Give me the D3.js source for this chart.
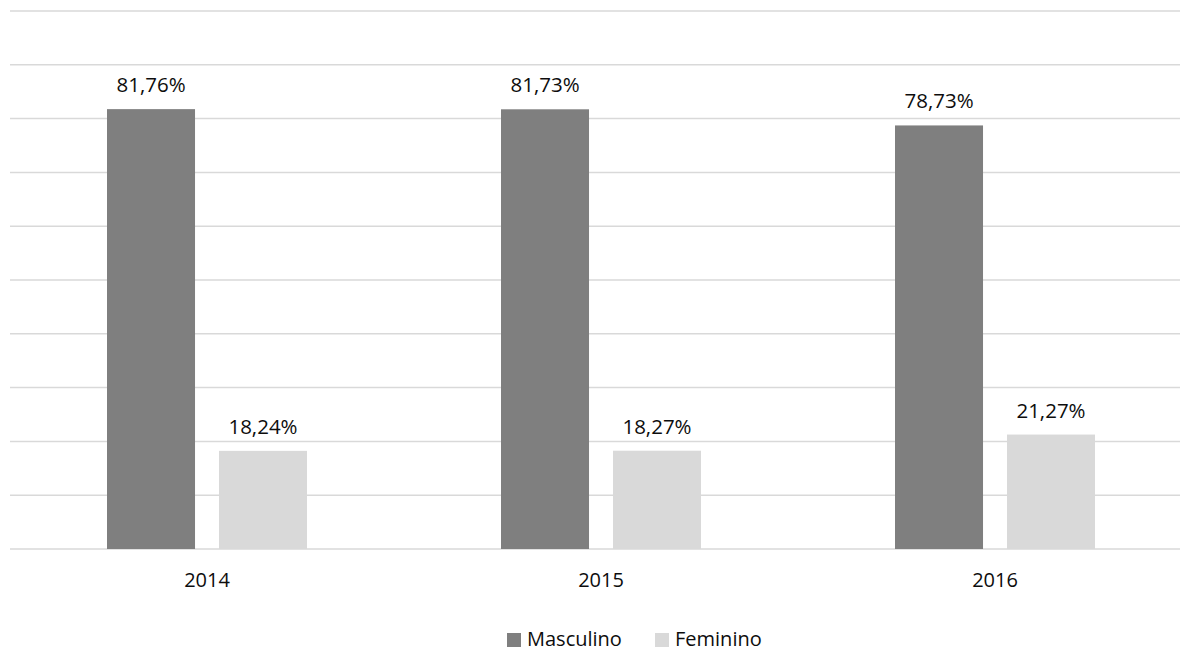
<!DOCTYPE html>
<html>
<head>
<meta charset="utf-8">
<script src="https://cdn.jsdelivr.net/npm/d3@7"></script>
<style>
  body { margin: 0; background: #fff; }
  svg { display: block; font-family: "Open Sans", sans-serif; }
</style>
</head>
<body>
<script>
// Data
const years = ["2014", "2015", "2016"];
const series = ["Masculino", "Feminino"];
const masculino = [81.76, 81.73, 78.73];
const feminino = [18.24, 18.27, 21.27];
const colors = ["#7f7f7f", "#d9d9d9"];
const gridTicks = [0, 10, 20, 30, 40, 50, 60, 70, 80, 90, 100];

const w = 1180;
const h = 652;

const rows = years.map((y, i) => ({ year: y, values: [masculino[i], feminino[i]] }));

const svg = d3.select("body").append("svg")
  .attr("width", w)
  .attr("height", h);

// Scales
const x = d3.scaleBand()
  .domain(years)
  .range([10, 1192]);

const xInner = d3.scaleBand()
  .domain(series)
  .range([x.bandwidth() / 2 - 100, x.bandwidth() / 2 + 100])
  .paddingInner(0.214);

const y = d3.scaleLinear()
  .domain([0, 100])
  .range([549, 11]);

// Gridlines
svg.append("g")
  .selectAll("line")
  .data(gridTicks)
  .enter()
  .append("line")
  .attr("x1", 10)
  .attr("x2", w)
  .attr("y1", (d) => y(d))
  .attr("y2", (d) => y(d))
  .attr("stroke", "#d9d9d9")
  .attr("stroke-width", 1.5);

// Bars
const groups = svg.append("g")
  .selectAll("g")
  .data(rows)
  .enter()
  .append("g")
  .attr("transform", (d) => "translate(" + x(d.year) + ",0)");

groups.selectAll("rect")
  .data((d) => d.values.map((v, i) => ({ key: series[i], value: v })))
  .enter()
  .append("rect")
  .attr("x", (d) => xInner(d.key))
  .attr("width", xInner.bandwidth())
  .attr("y", (d) => y(d.value))
  .attr("height", (d) => y(0) - y(d.value))
  .attr("fill", (d, i) => colors[i]);

// Value labels
groups.selectAll("text")
  .data((d) => d.values.map((v, i) => ({ key: series[i], value: v })))
  .enter()
  .append("text")
  .attr("x", (d) => xInner(d.key) + xInner.bandwidth() / 2)
  .attr("y", (d) => y(d.value) - 17)
  .attr("text-anchor", "middle")
  .attr("font-size", 20.5)
  .attr("fill", "#0d0d0d")
  .text((d) => d.value.toFixed(2).replace(".", ",") + "%");

// X axis
const xAxis = d3.axisBottom(x).tickSize(0).tickPadding(0);
const gx = svg.append("g")
  .attr("transform", "translate(0," + y(0) + ")")
  .call(xAxis);
gx.select(".domain").remove();
gx.selectAll("text")
  .attr("y", 38)
  .attr("dy", null)
  .attr("font-size", 20)
  .attr("font-family", "Open Sans, sans-serif")
  .attr("fill", "#0d0d0d");

// Legend
const legendX = [507, 655];
const legend = svg.append("g")
  .selectAll("g")
  .data(series)
  .enter()
  .append("g")
  .attr("transform", (d, i) => "translate(" + legendX[i] + ",633)");

legend.append("rect")
  .attr("width", 14)
  .attr("height", 14)
  .attr("fill", (d, i) => colors[i]);

legend.append("text")
  .attr("x", 20)
  .attr("y", 13)
  .attr("font-size", 20)
  .attr("fill", "#0d0d0d")
  .text((d) => d);
</script>
</body>
</html>
